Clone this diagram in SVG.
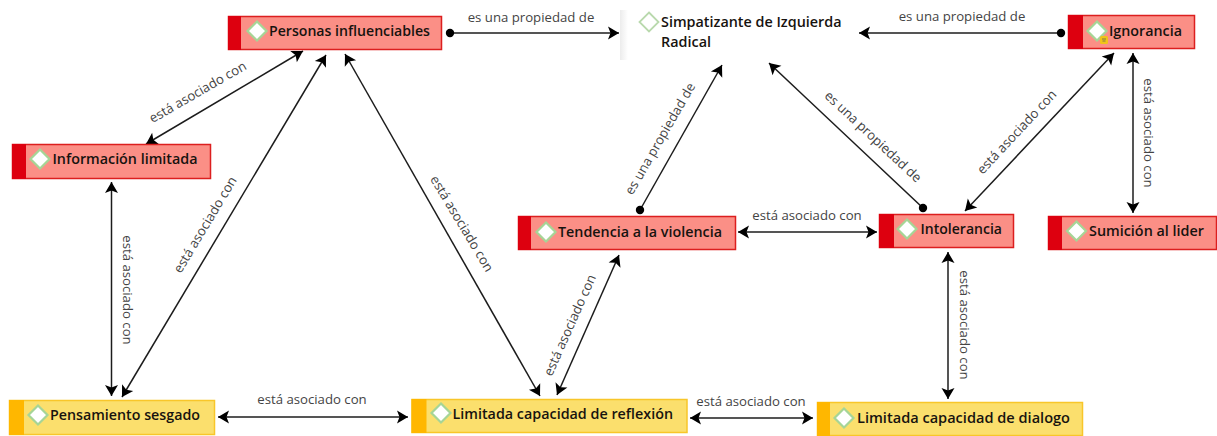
<svg xmlns="http://www.w3.org/2000/svg" width="1217" height="436" viewBox="0 0 1217 436">
<style>
text{font-family:"Open Sans","Noto Sans","Liberation Sans",sans-serif}
.r{fill:#fb8f86;stroke:#dc1f1f;stroke-width:1.5}
.rb{fill:#dd000f}
.y{fill:#fbdf6d;stroke:#f8c62a;stroke-width:1.5}
.yb{fill:#ffb700}
.d{fill:#fff;stroke:#a6d596;stroke-width:2.2}
.n{font-size:14.6px;font-weight:600;fill:#17130f}
.c line{stroke:#1c1c1c;stroke-width:1.5;fill:none}
.a{marker-start:url(#ah);marker-end:url(#ah)}
.p{marker-start:url(#dot);marker-end:url(#ah)}
.l{font-size:13.2px;fill:#444;text-anchor:middle}
</style>
<defs>
<marker id="ah" viewBox="-12 -8 13 16" refX="0" refY="0" markerUnits="userSpaceOnUse" markerWidth="13" markerHeight="16" orient="auto-start-reverse"><path d="M0,0 L-11,-6.500 L-8.500,0 L-11,6.500 Z" fill="#000"/></marker>
<marker id="dot" viewBox="-5 -5 10 10" refX="0" refY="0" markerUnits="userSpaceOnUse" markerWidth="10" markerHeight="10"><circle r="4.200" fill="#000"/></marker>
<linearGradient id="sh" x1="0" x2="1" y1="0" y2="0"><stop offset="0" stop-color="#ececec"/><stop offset="1" stop-color="#fff"/></linearGradient>
</defs>
<rect width="1217" height="436" fill="#fff"/>
<rect x="620" y="10" width="8" height="50" fill="url(#sh)"/>
<g id="connectors" class="c">
<line class="p" x1="450" y1="33" x2="619" y2="33"/>
<line class="p" x1="1061" y1="33" x2="859" y2="33"/>
<line class="a" x1="146" y1="144" x2="303" y2="51"/>
<line class="a" x1="326" y1="55" x2="122" y2="397"/>
<line class="a" x1="345" y1="54" x2="540" y2="396"/>
<line class="a" x1="111.500" y1="182" x2="111.500" y2="396"/>
<line class="a" x1="218" y1="417" x2="408" y2="417"/>
<line class="a" x1="690" y1="418" x2="813" y2="418"/>
<line class="a" x1="557" y1="395" x2="619" y2="255"/>
<line class="p" x1="640" y1="210" x2="722" y2="65"/>
<line class="p" x1="923" y1="208" x2="769" y2="63"/>
<line class="a" x1="965" y1="211" x2="1114" y2="53"/>
<line class="a" x1="1133" y1="53" x2="1133" y2="213"/>
<line class="a" x1="738" y1="232" x2="877" y2="232"/>
<line class="a" x1="948" y1="252" x2="948" y2="399"/>
<text class="l" x="531" y="22">es una propiedad de</text>
<text class="l" x="962" y="21">es una propiedad de</text>
<text class="l" transform="translate(200,96) rotate(-30)">está asociado con</text>
<text class="l" transform="translate(209,227) rotate(-59)">está asociado con</text>
<text class="l" transform="translate(458,226) rotate(59)">está asociado con</text>
<text class="l" transform="translate(123,290) rotate(90)">está asociado con</text>
<text class="l" x="312" y="404">está asociado con</text>
<text class="l" x="751" y="406">está asociado con</text>
<text class="l" transform="translate(574,327) rotate(-66)">está asociado con</text>
<text class="l" transform="translate(664,141) rotate(-60)">es una propiedad de</text>
<text class="l" transform="translate(870,140) rotate(43)">es una propiedad de</text>
<text class="l" transform="translate(1020,135) rotate(-47)">está asociado con</text>
<text class="l" transform="translate(1144,133) rotate(90)">está asociado con</text>
<text class="l" x="807" y="220">está asociado con</text>
<text class="l" transform="translate(960,325) rotate(90)">está asociado con</text>
</g>
<g id="personas"><rect class="r" x="228.500" y="16.500" width="213" height="33"/><rect class="rb" x="228" y="16" width="13" height="34"/><path class="d" d="M257,21.500 L266.500,31 L257,40.500 L247.500,31 Z"/><text class="n" x="269" y="36" textLength="161" lengthAdjust="spacingAndGlyphs">Personas influenciables</text></g>
<g id="informacion"><rect class="r" x="12.500" y="144.500" width="198" height="34"/><rect class="rb" x="12" y="144" width="14" height="35"/><path class="d" d="M40,149.500 L49.500,159 L40,168.500 L30.500,159 Z"/><text class="n" x="52.500" y="164" textLength="145" lengthAdjust="spacingAndGlyphs">Información limitada</text></g>
<g id="pensamiento"><rect class="y" x="9.500" y="400.500" width="205" height="34"/><rect class="yb" x="9" y="400" width="15" height="35"/><path class="d" d="M38,405.500 L47.500,415 L38,424.500 L28.500,415 Z"/><text class="n" x="50" y="420" textLength="150" lengthAdjust="spacingAndGlyphs">Pensamiento sesgado</text></g>
<g id="reflexion"><rect class="y" x="412" y="399.500" width="275" height="33"/><rect class="yb" x="411.500" y="399" width="15" height="34"/><path class="d" d="M441,403.500 L450.500,413 L441,422.500 L431.500,413 Z"/><text class="n" x="452.500" y="419" textLength="220.500" lengthAdjust="spacingAndGlyphs">Limitada capacidad de reflexión</text></g>
<g id="dialogo"><rect class="y" x="817.500" y="402.500" width="265" height="33"/><rect class="yb" x="817" y="402" width="13" height="34"/><path class="d" d="M844,408.500 L853.500,418 L844,427.500 L834.500,418 Z"/><text class="n" x="857" y="423" textLength="213" lengthAdjust="spacingAndGlyphs">Limitada capacidad de dialogo</text></g>
<g id="tendencia"><rect class="r" x="518.500" y="216.500" width="217" height="33"/><rect class="rb" x="518" y="216" width="13" height="34"/><path class="d" d="M546,222.500 L555.500,232 L546,241.500 L536.500,232 Z"/><text class="n" x="558" y="237" textLength="164" lengthAdjust="spacingAndGlyphs">Tendencia a la violencia</text></g>
<g id="intolerancia"><rect class="r" x="879.500" y="214.500" width="134" height="33"/><rect class="rb" x="879" y="214" width="15" height="34"/><path class="d" d="M907,219.500 L916.500,229 L907,238.500 L897.500,229 Z"/><text class="n" x="920.500" y="234" textLength="81.500" lengthAdjust="spacingAndGlyphs">Intolerancia</text></g>
<g id="sumicion"><rect class="r" x="1048.500" y="216.500" width="168" height="33"/><rect class="rb" x="1048" y="216" width="14" height="34"/><path class="d" d="M1076.500,221.500 L1086,231 L1076.500,240.500 L1067,231 Z"/><text class="n" x="1089" y="236" textLength="115" lengthAdjust="spacingAndGlyphs">Sumición al lider</text></g>
<g id="ignorancia"><rect class="r" x="1068.500" y="15.500" width="126" height="33"/><rect class="rb" x="1068" y="15" width="15" height="34"/><path class="d" d="M1097,21.500 L1106.500,31 L1097,40.500 L1087.500,31 Z"/><rect x="1100" y="36" width="8" height="8" rx="1.500" fill="#f0c419"/><path d="M1102,39 H1106 M1102.500,41 H1105.500" stroke="#665" stroke-width="0.800"/><text class="n" x="1109" y="36" textLength="73" lengthAdjust="spacingAndGlyphs">Ignorancia</text></g>
<g id="simpatizante"><path d="M649,12.500 L658.500,22 L649,31.500 L639.500,22 Z" fill="#fff" stroke="#b9d9ad" stroke-width="1.800"/><text class="n" x="661" y="27" textLength="180.500" lengthAdjust="spacingAndGlyphs">Simpatizante de Izquierda</text><text class="n" x="661" y="47" textLength="50" lengthAdjust="spacingAndGlyphs">Radical</text></g>
</svg>
